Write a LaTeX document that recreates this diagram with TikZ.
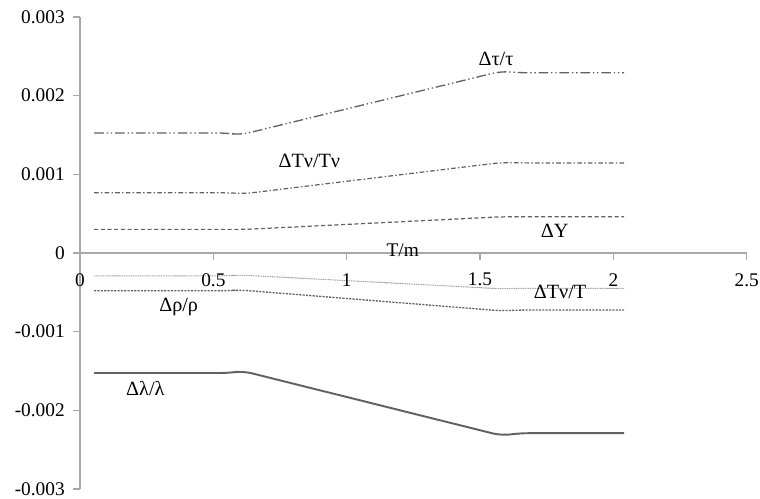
\documentclass[tikz,border=0pt]{standalone}
\usepackage{fontspec}
\setmainfont{Liberation Serif}

\definecolor{axisgray}{gray}{0.66}
\definecolor{darkcurve}{gray}{0.38}
\definecolor{lightcurve}{gray}{0.62}

\begin{document}
\begin{tikzpicture}[x=5.334cm, y=1.574cm, font=\fontsize{11}{13}\selectfont]

\useasboundingbox (-0.3,-3.126) rectangle (2.55,3.215);

\tikzset{
  axisline/.style={draw=axisgray, line width=0.85pt},
  curve/.style={rounded corners=5pt},
  tauline/.style={curve, draw=darkcurve, line width=0.75pt, dash pattern=on 5.5pt off 1.6pt on 0.8pt off 1.6pt on 0.8pt off 1.6pt},
  tnuline/.style={curve, draw=darkcurve, line width=0.7pt, dash pattern=on 2.6pt off 1.3pt on 0.8pt off 1.3pt},
  yline/.style={curve, draw=darkcurve, line width=0.7pt, dash pattern=on 2.3pt off 1.5pt},
  tvtline/.style={curve, draw=lightcurve, line width=0.6pt, dash pattern=on 0.6pt off 0.4pt},
  rholine/.style={curve, draw=darkcurve, line width=0.75pt, dash pattern=on 1.2pt off 0.7pt},
  lamline/.style={curve, draw=darkcurve, line width=1.1pt},
  ticklabel/.style={inner sep=0pt},
  curvelabel/.style={font=\fontsize{11.5}{13}\selectfont}
}

\coordinate (O) at (0,0);
\coordinate (XE) at (2.5,0);
\coordinate (YT) at (0,3);
\coordinate (YB) at (0,-3);

% axes
\draw [axisline] (YB)--(YT);
\draw [axisline] (O)--(XE);
\foreach \t in {-3,-2,-1,0,1,2,3}
  \draw [axisline] (-0.026,\t)--(0,\t);
\foreach \s in {0.5,1,1.5,2,2.5}
  \draw [axisline] (\s,0)--(\s,-0.089);

% curves
\draw [tauline] (0.053,1.525)--(0.55,1.525)--(0.6,1.50)--(1.58,2.31)--(1.65,2.29)--(2.04,2.29);
\draw [tnuline] (0.053,0.765)--(0.55,0.765)--(0.62,0.755)--(1.58,1.15)--(1.65,1.145)--(2.04,1.145);
\draw [yline] (0.053,0.30)--(0.62,0.30)--(1.58,0.46)--(2.04,0.46);
\draw [tvtline] (0.053,-0.29)--(0.55,-0.29)--(0.6,-0.28)--(1.58,-0.455)--(1.65,-0.45)--(2.04,-0.45);
\draw [rholine] (0.053,-0.48)--(0.55,-0.48)--(0.6,-0.47)--(1.58,-0.735)--(1.65,-0.725)--(2.04,-0.725);
\draw [lamline] (0.053,-1.525)--(0.56,-1.525)--(0.61,-1.50)--(1.58,-2.32)--(1.65,-2.29)--(2.04,-2.29);

% tick labels
\node [ticklabel, anchor=east] (y3) at (-0.056,3) {0.003};
\node [ticklabel, anchor=east] (y2) at (-0.056,2) {0.002};
\node [ticklabel, anchor=east] (y1) at (-0.056,1) {0.001};
\node [ticklabel, anchor=east] (y0) at (-0.056,0) {0};
\node [ticklabel, anchor=east] (ym1) at (-0.056,-1) {-0.001};
\node [ticklabel, anchor=east] (ym2) at (-0.056,-2) {-0.002};
\node [ticklabel, anchor=east] (ym3) at (-0.056,-3) {-0.003};

\node [ticklabel] (x0) at (0,-0.34) {0};
\node [ticklabel] (x05) at (0.5,-0.34) {0.5};
\node [ticklabel] (x1) at (1,-0.34) {1};
\node [ticklabel] (x15) at (1.5,-0.34) {1.5};
\node [ticklabel] (x2) at (2,-0.34) {2};
\node [ticklabel] (x25) at (2.5,-0.34) {2.5};

\node (xname) at (1.21,0.03) {T/m};

% curve labels
\node [curvelabel] (ltau) at (1.56,2.47) {Δτ/τ};
\node [curvelabel] (ltnu) at (0.86,1.17) {ΔTν/Tν};
\node [curvelabel] (lY) at (1.78,0.28) {ΔY};
\node [curvelabel] (ltvt) at (1.80,-0.50) {ΔTν/T};
\node [curvelabel] (lrho) at (0.37,-0.68) {Δρ/ρ};
\node [curvelabel] (llam) at (0.245,-1.72) {Δλ/λ};

\end{tikzpicture}
\end{document}
